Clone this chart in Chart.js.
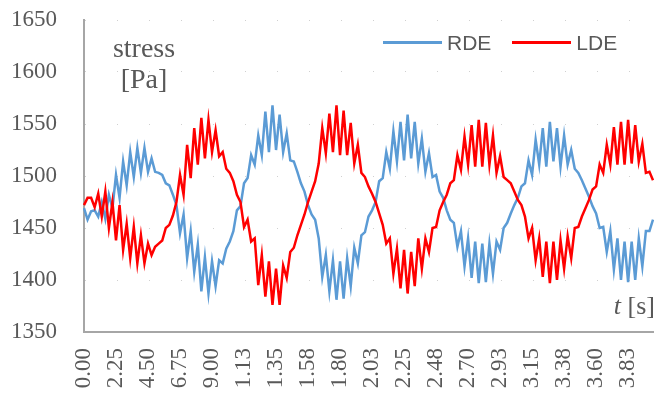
<!DOCTYPE html>
<html>
<head>
<meta charset="utf-8">
<script src="https://cdn.jsdelivr.net/npm/chart.js@4.4.0/dist/chart.umd.min.js"></script>
<style>
  html, body { margin: 0; padding: 0; background: #fff; }
  #wrap { position: relative; width: 657px; height: 401px; }
  .note { position: absolute; font-family: 'Liberation Serif', 'Times New Roman', serif; color: #595959; white-space: nowrap; }
  #yTitle { left: 94px; top: 32px; width: 100px; text-align: center; font-size: 28px; line-height: 31px; }
  #xTitle { right: 2px; top: 293px; font-size: 26px; line-height: 26px; }
  #legend { position: absolute; top: 32px; left: 383px; display: flex; font-family: 'Liberation Sans', Arial, sans-serif; font-size: 21px; line-height: 21px; color: #595959; }
  .item { display: flex; align-items: center; margin-right: 21px; }
  .swatch { width: 59px; height: 3px; margin-right: 5px; }
</style>
</head>
<body>
<div id="wrap">
  <canvas id="chart" width="657" height="401"></canvas>
  <div id="yTitle" class="note">stress<br>[Pa]</div>
  <div id="xTitle" class="note"><i>t</i> [s]</div>
  <div id="legend"></div>
</div>
<script>
// x tick labels, one every 9 samples (as shown on the original axis)
const tickLabels = ['0.00', '2.25', '4.50', '6.75', '9.00', '1.13', '1.35', '1.58', '1.80',
  '2.03', '2.25', '2.48', '2.70', '2.93', '3.15', '3.38', '3.60', '3.83'];
const labelStep = 9;

// stress [Pa]
const rde = [
  1469, 1458, 1466, 1467, 1461, 1475, 1459, 1482, 1469, 1501,
  1479, 1514, 1491, 1523, 1499, 1527, 1503, 1527, 1504, 1517,
  1504, 1503, 1501, 1493, 1491, 1482, 1472, 1445, 1463, 1421,
  1447, 1408, 1434, 1389, 1422, 1387, 1418, 1394, 1419, 1416,
  1430, 1437, 1447, 1467, 1471, 1493, 1498, 1520, 1511, 1539,
  1520, 1562, 1523, 1568, 1525, 1559, 1523, 1541, 1515, 1514,
  1504, 1493, 1485, 1472, 1463, 1458, 1440, 1403, 1424, 1389,
  1419, 1381, 1418, 1382, 1421, 1394, 1431, 1416, 1443, 1446,
  1461, 1467, 1475, 1495, 1498, 1523, 1507, 1543, 1514, 1552,
  1515, 1559, 1517, 1552, 1512, 1536, 1504, 1522, 1499, 1501,
  1485, 1479, 1467, 1458, 1455, 1432, 1447, 1413, 1440, 1402,
  1437, 1397, 1435, 1398, 1435, 1406, 1437, 1429, 1450, 1455,
  1464, 1472, 1479, 1490, 1493, 1515, 1501, 1535, 1511, 1546,
  1509, 1552, 1514, 1546, 1509, 1539, 1511, 1525, 1507, 1503,
  1496, 1488, 1480, 1471, 1464, 1450, 1451, 1427, 1447, 1410,
  1440, 1400, 1437, 1398, 1437, 1400, 1440, 1413, 1447, 1447,
  1458
];
const lde = [
  1472, 1479, 1479, 1470, 1483, 1461, 1485, 1450, 1475, 1438,
  1472, 1429, 1454, 1421, 1451, 1416, 1443, 1416, 1435, 1424,
  1432, 1435, 1438, 1450, 1453, 1462, 1475, 1501, 1482, 1530,
  1498, 1546, 1511, 1556, 1517, 1554, 1523, 1544, 1519, 1523,
  1507, 1503, 1495, 1482, 1475, 1451, 1458, 1437, 1440, 1395,
  1424, 1384, 1418, 1376, 1411, 1376, 1414, 1402, 1427, 1431,
  1443, 1453, 1463, 1475, 1485, 1495, 1512, 1546, 1522, 1560,
  1523, 1568, 1520, 1563, 1520, 1551, 1512, 1530, 1503, 1499,
  1490, 1483, 1475, 1464, 1453, 1435, 1440, 1406, 1430, 1392,
  1429, 1387, 1427, 1394, 1440, 1411, 1440, 1427, 1450, 1451,
  1467, 1475, 1482, 1493, 1496, 1520, 1506, 1538, 1511, 1549,
  1509, 1554, 1509, 1551, 1511, 1539, 1503, 1519, 1499, 1496,
  1493, 1485, 1477, 1472, 1461, 1440, 1450, 1419, 1440, 1403,
  1437, 1397, 1437, 1400, 1438, 1411, 1442, 1421, 1450, 1451,
  1461, 1469, 1477, 1487, 1490, 1511, 1503, 1530, 1511, 1547,
  1511, 1552, 1511, 1554, 1512, 1549, 1514, 1531, 1503, 1504,
  1496
];

const categories = rde.map((_, i) => i % labelStep === 0 ? (tickLabels[i / labelStep] || '') : '');

const axisGray = '#a6a6a6';
const textGray = '#595959';
const tickFont = { family: "'Liberation Serif', 'Times New Roman', serif", size: 23 };

const chart = new Chart(document.getElementById('chart'), {
  type: 'line',
  data: {
    labels: categories,
    datasets: [
      { label: 'RDE', data: rde, borderColor: '#5b9bd5', backgroundColor: '#5b9bd5', borderWidth: 2.5, pointRadius: 0, tension: 0, order: 1 },
      { label: 'LDE', data: lde, borderColor: '#ff0000', backgroundColor: '#ff0000', borderWidth: 2.5, pointRadius: 0, tension: 0, order: 0 }
    ]
  },
  options: {
    responsive: false,
    animation: false,
    devicePixelRatio: 1,
    layout: { padding: { left: 0, right: 4, top: 20, bottom: 0 } },
    plugins: { legend: { display: false }, tooltip: { enabled: false } },
    scales: {
      x: {
        grid: { display: false, drawTicks: false, tickLength: 0 },
        border: { color: axisGray, width: 2 },
        ticks: { autoSkip: false, minRotation: 90, maxRotation: 90, padding: 16, color: textGray, font: tickFont },
        afterFit: (scale) => { scale.height = 69; scale.paddingLeft = 0; scale.paddingRight = 0; }
      },
      y: {
        min: 1350,
        max: 1650,
        grid: { color: '#d0d0d0', lineWidth: 1, drawTicks: false, tickLength: 0 },
        border: { color: axisGray, width: 2, dash: [1, 31] },
        ticks: { stepSize: 50, padding: 27, color: textGray, font: tickFont, callback: (v) => String(v) },
        // keep the plot area fixed: 84px axis column, no extra top/bottom padding
        afterFit: (scale) => { scale.width = 84; scale.paddingTop = 0; scale.paddingBottom = 0; }
      }
    }
  }
});

// legend built from the datasets
const legend = document.getElementById('legend');
chart.data.datasets.forEach((ds) => {
  const item = document.createElement('div');
  item.className = 'item';
  item.innerHTML = '<span class="swatch" style="background:' + ds.borderColor + '"></span><span>' + ds.label + '</span>';
  legend.appendChild(item);
});
</script>
</body>
</html>
